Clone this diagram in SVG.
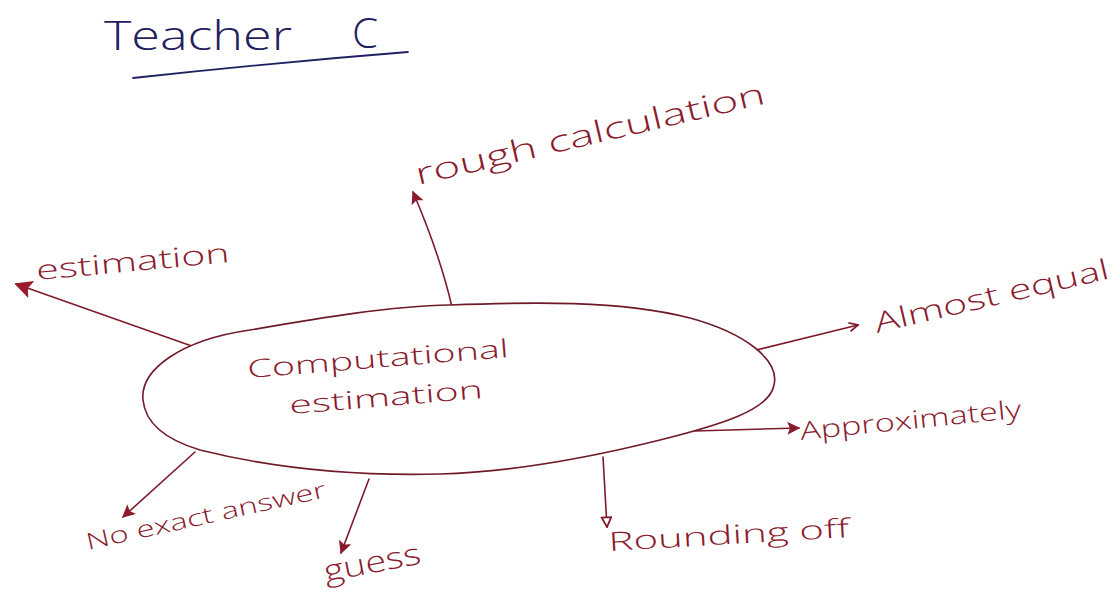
<svg xmlns="http://www.w3.org/2000/svg" width="1120" height="598" viewBox="0 0 1120 598">
  <style>
    .ink { font-family: "Open Sans", "Lato", "DejaVu Sans", sans-serif; font-weight: 300; fill: #8a1c2e; }
    .title { font-family: "Open Sans", "Lato", "DejaVu Sans", sans-serif; font-weight: 300; fill: #1f2160; }
    .wire { fill: none; stroke: #7e1a2b; stroke-width: 1.6; stroke-linecap: round; }
    .blob { fill: #ffffff; stroke: #6e1a28; stroke-width: 1.6; }
  </style>
  <defs>
    <marker id="solid" viewBox="0 0 10 10" refX="9" refY="5" markerUnits="userSpaceOnUse" markerWidth="15" markerHeight="13" orient="auto">
      <path d="M0,0 L10,5 L0,10 L2,5 z" fill="#8a1c2e"/>
    </marker>
    <marker id="solidBig" viewBox="0 0 10 10" refX="9" refY="5" markerUnits="userSpaceOnUse" markerWidth="22" markerHeight="18" orient="auto">
      <path d="M0,0 L10,5 L0,10 L2,5 z" fill="#9a1a2a"/>
    </marker>
    <marker id="chevron" viewBox="0 0 10 10" refX="9" refY="5" markerUnits="userSpaceOnUse" markerWidth="11" markerHeight="11" orient="auto">
      <path d="M1,1 L9,5 L1,9" fill="none" stroke="#7e1a2b" stroke-width="1.6"/>
    </marker>
    <marker id="hollow" viewBox="0 0 10 10" refX="9" refY="5" markerUnits="userSpaceOnUse" markerWidth="12" markerHeight="12" orient="auto">
      <path d="M1,1 L9,5 L1,9 z" fill="#ffffff" stroke="#7e1a2b" stroke-width="1.5"/>
    </marker>
  </defs>

  <rect width="1120" height="598" fill="#ffffff"/>

  <!-- heading -->
  <g id="title">
    <text class="title" x="104" y="50" font-size="40" textLength="188" lengthAdjust="spacingAndGlyphs">Teacher</text>
    <text class="title" x="352" y="48" font-size="42">C</text>
    <path d="M133,78 Q270,63 408,52" fill="none" stroke="#1f2160" stroke-width="1.8" stroke-linecap="round"/>
  </g>

  <!-- connectors -->
  <g id="connectors">
    <line class="wire" x1="203" y1="350" x2="16" y2="284" marker-end="url(#solidBig)"/>
    <path class="wire" d="M452,307 Q440,255 413,192" marker-end="url(#solid)"/>
    <line class="wire" x1="748" y1="352" x2="858" y2="325" marker-end="url(#chevron)"/>
    <line class="wire" x1="695" y1="431" x2="799" y2="428" marker-end="url(#solid)"/>
    <line class="wire" x1="603" y1="457" x2="607" y2="527" marker-end="url(#hollow)"/>
    <line class="wire" x1="369" y1="479" x2="341" y2="553" marker-end="url(#solid)"/>
    <line class="wire" x1="195" y1="452" x2="123" y2="517" marker-end="url(#solid)"/>
  </g>

  <!-- central node -->
  <g id="computational-estimation">
    <path class="blob" d="M143,400 C140,370 180,340 250,330 C320,318 390,306 450,305 C530,302 620,300 690,318 C745,333 780,360 774,385 C770,410 720,425 660,440 C580,460 510,472 440,474 C360,476 280,470 200,450 C160,438 145,420 143,400 Z"/>
    <text class="ink" font-size="25" transform="translate(248,378) rotate(-4.6)" textLength="262" lengthAdjust="spacingAndGlyphs">Computational</text>
    <text class="ink" font-size="25" transform="translate(290,414) rotate(-4.7)" textLength="194" lengthAdjust="spacingAndGlyphs">estimation</text>
  </g>

  <g id="estimation">
    <text class="ink" font-size="27" transform="translate(37,280) rotate(-5.3)" textLength="194" lengthAdjust="spacingAndGlyphs">estimation</text>
  </g>

  <g id="rough-calculation">
    <text class="ink" font-size="30" transform="translate(418,185) rotate(-13.2)" textLength="358" lengthAdjust="spacingAndGlyphs">rough calculation</text>
  </g>

  <g id="almost-equal">
    <text class="ink" font-size="28" transform="translate(877,333) rotate(-13.2)" textLength="240" lengthAdjust="spacingAndGlyphs">Almost equal</text>
  </g>

  <g id="approximately">
    <text class="ink" font-size="25" transform="translate(801,440) rotate(-5.8)" textLength="222" lengthAdjust="spacingAndGlyphs">Approximately</text>
  </g>

  <g id="rounding-off">
    <text class="ink" font-size="26" transform="translate(609,551) rotate(-3.3)" textLength="241" lengthAdjust="spacingAndGlyphs">Rounding off</text>
  </g>

  <g id="guess">
    <text class="ink" font-size="30" transform="translate(326,582) rotate(-11)" textLength="98" lengthAdjust="spacingAndGlyphs">guess</text>
  </g>

  <g id="no-exact-answer">
    <text class="ink" font-size="23" transform="translate(88,550) rotate(-12.5)" textLength="245" lengthAdjust="spacingAndGlyphs">No exact answer</text>
  </g>
</svg>
